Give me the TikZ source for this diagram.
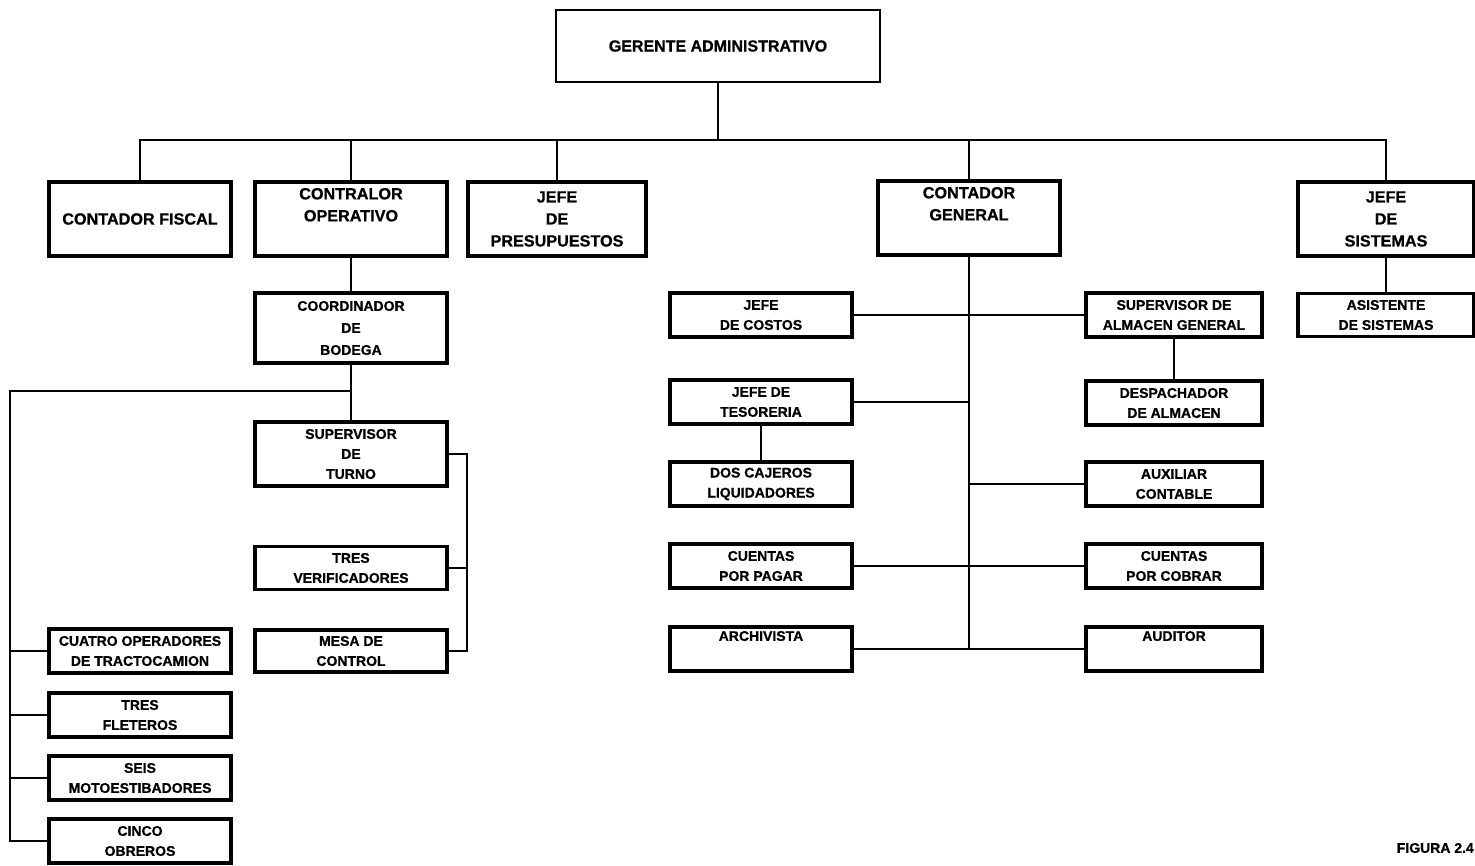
\documentclass[tikz,border=0pt]{standalone}
\usepackage{fontspec}
\setmainfont{Liberation Sans}[BoldFeatures={FakeBold=0.8}]
\begin{document}
\begin{tikzpicture}[x=1pt,y=-1pt,
  box/.style={draw, line width=3.2pt, inner sep=0pt, outer sep=0pt, align=center},
  topbox/.style={box, line width=2.4pt, minimum width=324pt, minimum height=72pt,
    font=\fontsize{16}{22}\selectfont\bfseries},
  headbox/.style={box, minimum height=74pt, font=\fontsize{16.2}{22}\selectfont\bfseries},
  unitbox/.style={box, minimum height=44pt, font=\fontsize{14}{20}\selectfont\bfseries},
  link/.style={line width=1.5pt}]
\useasboundingbox (0,0) rectangle (1475,865);

% top management
\node[topbox] (ger) at (718,46) {GERENTE ADMINISTRATIVO};

% first level
\node[headbox, minimum width=182pt] (fis) at (140,219) {CONTADOR FISCAL};
\node[headbox, minimum width=192pt] (con) at (351,219) {CONTRALOR\\OPERATIVO\\\strut};
\node[headbox, minimum width=178pt] (pre) at (557,219) {JEFE\\DE\\PRESUPUESTOS};
\node[headbox, minimum width=182pt] (gen) at (969,218) {CONTADOR\\GENERAL\\\strut};
\node[headbox, minimum width=176pt] (sis) at (1386,219) {JEFE\\DE\\SISTEMAS};

% operations branch
\node[unitbox, minimum width=192pt, minimum height=70pt, font=\fontsize{14}{22}\selectfont\bfseries] (coo) at (351,328) {COORDINADOR\\DE\\BODEGA};
\node[unitbox, minimum width=192pt, minimum height=64pt] (sup) at (351,454) {SUPERVISOR\\DE\\TURNO};
\node[unitbox, minimum width=192pt, minimum height=43pt] (ver) at (351,568) {TRES\\VERIFICADORES};
\node[unitbox, minimum width=192pt, minimum height=42pt] (mes) at (351,651) {MESA DE\\CONTROL};

\node[unitbox, minimum width=182pt] (op)  at (140,651) {CUATRO OPERADORES\\DE TRACTOCAMION};
\node[unitbox, minimum width=182pt] (fle) at (140,715) {TRES\\FLETEROS};
\node[unitbox, minimum width=182pt] (mot) at (140,778) {SEIS\\MOTOESTIBADORES};
\node[unitbox, minimum width=182pt] (obr) at (140,841) {CINCO\\OBREROS};

% accounting branch
\node[unitbox, minimum width=182pt] (cos) at (761,315) {JEFE\\DE COSTOS};
\node[unitbox, minimum width=182pt] (tes) at (761,402) {JEFE DE\\TESORERIA};
\node[unitbox, minimum width=182pt] (caj) at (761,484) {DOS CAJEROS\\LIQUIDADORES};
\node[unitbox, minimum width=182pt] (pag) at (761,566) {CUENTAS\\POR PAGAR};
\node[unitbox, minimum width=182pt] (arc) at (761,649) {ARCHIVISTA\\\strut};

\node[unitbox, minimum width=176pt] (sal) at (1174,315) {SUPERVISOR DE\\ALMACEN GENERAL};
\node[unitbox, minimum width=176pt] (des) at (1174,403) {DESPACHADOR\\DE ALMACEN};
\node[unitbox, minimum width=176pt] (aux) at (1174,484) {AUXILIAR\\CONTABLE};
\node[unitbox, minimum width=176pt] (cob) at (1174,566) {CUENTAS\\POR COBRAR};
\node[unitbox, minimum width=176pt] (aud) at (1174,649) {AUDITOR\\\strut};

% systems branch
\node[unitbox, minimum width=176pt, minimum height=43pt] (asi) at (1386,315) {ASISTENTE\\DE SISTEMAS};

% caption
\node[anchor=east, inner sep=0pt, font=\fontsize{14}{16}\selectfont\bfseries] (fig) at (1474,848) {FIGURA 2.4};

% connector helpers
\coordinate (bus) at (0,140);
\coordinate (lt) at (10,391);
\coordinate (brk) at (467,0);

% top bus
\draw[link] (ger.south) -- (ger.south |- bus);
\draw[link] (fis.north) -- (fis.north |- bus) -- (sis.north |- bus) -- (sis.north);
\draw[link] (con.north) -- (con.north |- bus);
\draw[link] (pre.north) -- (pre.north |- bus);
\draw[link] (gen.north) -- (gen.north |- bus);

% operations
\draw[link] (con.south) -- (coo.north);
\draw[link] (coo.south) -- (sup.north);
\draw[link] (coo.south |- lt) -- (lt) |- (obr.west);
\draw[link] (op.west -| lt) -- (op.west);
\draw[link] (fle.west -| lt) -- (fle.west);
\draw[link] (mot.west -| lt) -- (mot.west);
\draw[link] (sup.east) -| (brk |- mes.east) -- (mes.east);
\draw[link] (ver.east) -- (ver.east -| brk);

% accounting
\draw[link] (gen.south) -- (gen.south |- arc.east);
\draw[link] (cos.east) -- (sal.west);
\draw[link] (tes.east) -- (tes.east -| gen.south);
\draw[link] (tes.south) -- (caj.north);
\draw[link] (sal.south) -- (des.north);
\draw[link] (aux.west) -- (aux.west -| gen.south);
\draw[link] (pag.east) -- (cob.west);
\draw[link] (arc.east) -- (aud.west);

% systems
\draw[link] (sis.south) -- (asi.north);
\end{tikzpicture}
\end{document}
